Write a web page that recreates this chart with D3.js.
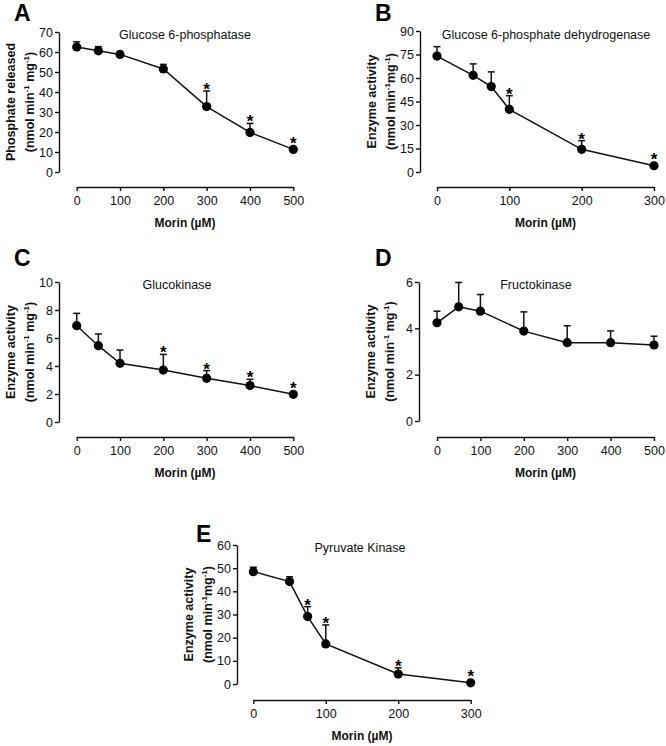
<!DOCTYPE html>
<html>
<head>
<meta charset="utf-8">
<script src="https://cdn.jsdelivr.net/npm/d3@7"></script>
<style>
  html, body { margin: 0; padding: 0; background: #fff; }
  svg { display: block; font-family: "Liberation Sans", Arial, sans-serif; }
</style>
</head>
<body>
<div id="chart"></div>
<script>
// Morin dose-response on five liver enzymes, mean + upward SEM bar, * = significant.

// Doses (µM)
const doseLong = [0, 50, 100, 200, 300, 400, 500]
const doseShort = [0, 50, 75, 100, 200, 300]
const xTicksLong = [0, 100, 200, 300, 400, 500]
const xTicksShort = [0, 100, 200, 300]

// A — Glucose 6-phosphatase
const g6paseMean = [62.5, 60.6, 58.8, 51.5, 32.7, 19.8, 11.3]
const g6paseSem = [2.6, 2.1, 0.6, 2.3, 7.8, 4.5, 0.6]
const g6paseSig = [0, 0, 0, 0, 1, 1, 1]
const g6paseTicks = [0, 10, 20, 30, 40, 50, 60, 70]

// B — Glucose 6-phosphate dehydrogenase
const g6pdMean = [74, 61.7, 54.5, 40, 14.5, 4]
const g6pdSem = [6, 7.3, 9.4, 8.7, 5.5, 0]
const g6pdSig = [0, 0, 0, 1, 1, 1]
const g6pdTicks = [0, 15, 30, 45, 60, 75, 90]

// C — Glucokinase
const gkMean = [6.88, 5.45, 4.19, 3.71, 3.12, 2.6, 1.98]
const gkSem = [0.88, 0.84, 0.95, 1.12, 0.55, 0.45, 0]
const gkSig = [0, 0, 0, 1, 1, 1, 1]
const gkTicks = [0, 2, 4, 6, 8, 10]

// D — Fructokinase
const fkMean = [4.24, 4.93, 4.74, 3.88, 3.38, 3.38, 3.28]
const fkSem = [0.5, 1.05, 0.72, 0.83, 0.73, 0.51, 0.38]
const fkSig = [0, 0, 0, 0, 0, 0, 0]
const fkTicks = [0, 2, 4, 6]

// E — Pyruvate kinase
const pkMean = [48.5, 44.2, 29.1, 17.3, 4.3, 0.5]
const pkSem = [1.9, 2.1, 4.3, 8.2, 2.7, 0]
const pkSig = [0, 0, 1, 1, 1, 1]
const pkTicks = [0, 10, 20, 30, 40, 50, 60]

const panels = [
  { letter: "A", title: "Glucose 6-phosphatase", yLabel: "Phosphate released", unitGap: true,
    dose: doseLong, mean: g6paseMean, sem: g6paseSem, sig: g6paseSig, yTicks: g6paseTicks, xTicks: xTicksLong },
  { letter: "B", title: "Glucose 6-phosphate dehydrogenase", yLabel: "Enzyme activity", unitGap: false,
    dose: doseShort, mean: g6pdMean, sem: g6pdSem, sig: g6pdSig, yTicks: g6pdTicks, xTicks: xTicksShort },
  { letter: "C", title: "Glucokinase", yLabel: "Enzyme activity", unitGap: true,
    dose: doseLong, mean: gkMean, sem: gkSem, sig: gkSig, yTicks: gkTicks, xTicks: xTicksLong },
  { letter: "D", title: "Fructokinase", yLabel: "Enzyme activity", unitGap: true,
    dose: doseLong, mean: fkMean, sem: fkSem, sig: fkSig, yTicks: fkTicks, xTicks: xTicksLong },
  { letter: "E", title: "Pyruvate Kinase", yLabel: "Enzyme activity", unitGap: false,
    dose: doseShort, mean: pkMean, sem: pkSem, sig: pkSig, yTicks: pkTicks, xTicks: xTicksShort },
]

// Placement of each panel on the page (pixels)
const layout = {
  A: { axisX: 59, x0: 76.7, x1: 293.3, yTop: 32, yBot: 172, xAxisY: 187, letterX: 14, letterY: 21, titleX: 185, titleY: 39 },
  B: { axisX: 420, x0: 437, x1: 654, yTop: 31, yBot: 172, xAxisY: 187, letterX: 375, letterY: 21, titleX: 546, titleY: 39 },
  C: { axisX: 59, x0: 76.7, x1: 293.3, yTop: 282, yBot: 422, xAxisY: 437, letterX: 14, letterY: 266, titleX: 177, titleY: 289 },
  D: { axisX: 419, x0: 437, x1: 654, yTop: 282, yBot: 421, xAxisY: 437, letterX: 375, letterY: 266, titleX: 536, titleY: 289 },
  E: { axisX: 237, x0: 253.3, x1: 470.7, yTop: 545, yBot: 684, xAxisY: 700, letterX: 196, letterY: 542, titleX: 360, titleY: 552 },
}

const ink = "#111"
const fmtTick = d3.format("d")
const svg = d3.select("#chart")
  .append("svg")
  .attr("width", 666).attr("height", 746)
  .attr("viewBox", "0 0 666 746")
  .style("background", "#fff")

panels.forEach((p) => {
  const L = layout[p.letter]
  const g = svg.append("g").attr("class", `panel-${p.letter}`)

  const x = d3.scaleLinear()
    .domain(d3.extent(p.xTicks))
    .range([L.x0, L.x1])
  const y = d3.scaleLinear()
    .domain(d3.extent(p.yTicks))
    .range([L.yBot, L.yTop])

  // Y axis (left)
  g.append("g")
    .attr("transform", `translate(${L.axisX},0)`)
    .call(d3.axisLeft(y).tickValues(p.yTicks).tickFormat(fmtTick).tickSize(4).tickSizeOuter(0).tickPadding(2))
    .call((s) => s.selectAll("path, line").attr("stroke", ink).attr("stroke-width", 1.4))
    .call((s) => s.selectAll("text").attr("fill", ink).attr("font-size", 12.5)
      .attr("font-family", "'Liberation Sans', Arial, sans-serif"))

  // X axis, offset below the plot
  g.append("g")
    .attr("transform", `translate(0,${L.xAxisY})`)
    .call(d3.axisBottom(x).tickValues(p.xTicks).tickFormat(fmtTick).tickSize(4).tickSizeOuter(0).tickPadding(5))
    .call((s) => s.selectAll("path, line").attr("stroke", ink).attr("stroke-width", 1.4))
    .call((s) => s.selectAll("text").attr("fill", ink).attr("font-size", 12.5)
      .attr("font-family", "'Liberation Sans', Arial, sans-serif"))

  // X title
  g.append("text")
    .attr("x", (L.x0 + L.x1) / 2).attr("y", L.xAxisY + 40)
    .attr("text-anchor", "middle")
    .attr("font-size", 12).attr("font-weight", 700).attr("fill", ink)
    .text("Morin (µM)")

  // Y title, two lines rotated
  const cy = (L.yTop + L.yBot) / 2
  g.append("text")
    .attr("transform", `translate(${L.axisX - 44},${cy}) rotate(-90)`)
    .attr("text-anchor", "middle")
    .attr("font-size", 12.5).attr("font-weight", 700).attr("fill", ink)
    .text(p.yLabel)

  const unit = g.append("text")
    .attr("transform", `translate(${L.axisX - 25},${cy}) rotate(-90)`)
    .attr("text-anchor", "middle")
    .attr("font-size", 12.5).attr("font-weight", 700).attr("fill", ink)
  unit.append("tspan").text("(nmol min")
  unit.append("tspan").attr("font-size", 8).attr("dy", -5).text("-1")
  unit.append("tspan").attr("dy", 5).text(p.unitGap ? " mg" : "mg")
  unit.append("tspan").attr("font-size", 8).attr("dy", -5).text("-1")
  unit.append("tspan").attr("dy", 5).text(")")

  // Panel letter + title
  g.append("text")
    .attr("x", L.letterX).attr("y", L.letterY)
    .attr("font-size", 23).attr("font-weight", 700).attr("fill", "#000")
    .text(p.letter)

  g.append("text")
    .attr("x", L.titleX).attr("y", L.titleY)
    .attr("text-anchor", "middle")
    .attr("font-size", 12.5).attr("fill", ink)
    .text(p.title)

  const rows = p.dose.map((d, i) => ({ dose: d, mean: p.mean[i], sem: p.sem[i], sig: p.sig[i] }))

  // Connecting line
  g.append("path")
    .datum(rows)
    .attr("fill", "none").attr("stroke", ink).attr("stroke-width", 1.5)
    .attr("d", d3.line().x((d) => x(d.dose)).y((d) => y(d.mean)))

  // Upward SEM bars with caps
  const err = g.selectAll("g.err")
    .data(rows.filter((d) => d.sem > 0))
    .join("g").attr("class", "err")
  err.append("line")
    .attr("x1", (d) => x(d.dose)).attr("x2", (d) => x(d.dose))
    .attr("y1", (d) => y(d.mean)).attr("y2", (d) => y(d.mean + d.sem))
    .attr("stroke", ink).attr("stroke-width", 1.5)
  err.append("line")
    .attr("x1", (d) => x(d.dose) - 3.5).attr("x2", (d) => x(d.dose) + 3.5)
    .attr("y1", (d) => y(d.mean + d.sem)).attr("y2", (d) => y(d.mean + d.sem))
    .attr("stroke", ink).attr("stroke-width", 1.5)

  // Points
  g.selectAll("circle.pt")
    .data(rows)
    .join("circle").attr("class", "pt")
    .attr("cx", (d) => x(d.dose)).attr("cy", (d) => y(d.mean))
    .attr("r", 4.6).attr("fill", "#000")

  // Significance stars
  g.selectAll("text.star")
    .data(rows.filter((d) => d.sig))
    .join("text").attr("class", "star")
    .attr("x", (d) => x(d.dose))
    .attr("y", (d) => Math.min(y(d.mean + d.sem), y(d.mean) - 4.6) + 4)
    .attr("text-anchor", "middle")
    .attr("font-size", 17).attr("font-weight", 700).attr("fill", "#000")
    .text("*")
})
</script>
</body>
</html>
